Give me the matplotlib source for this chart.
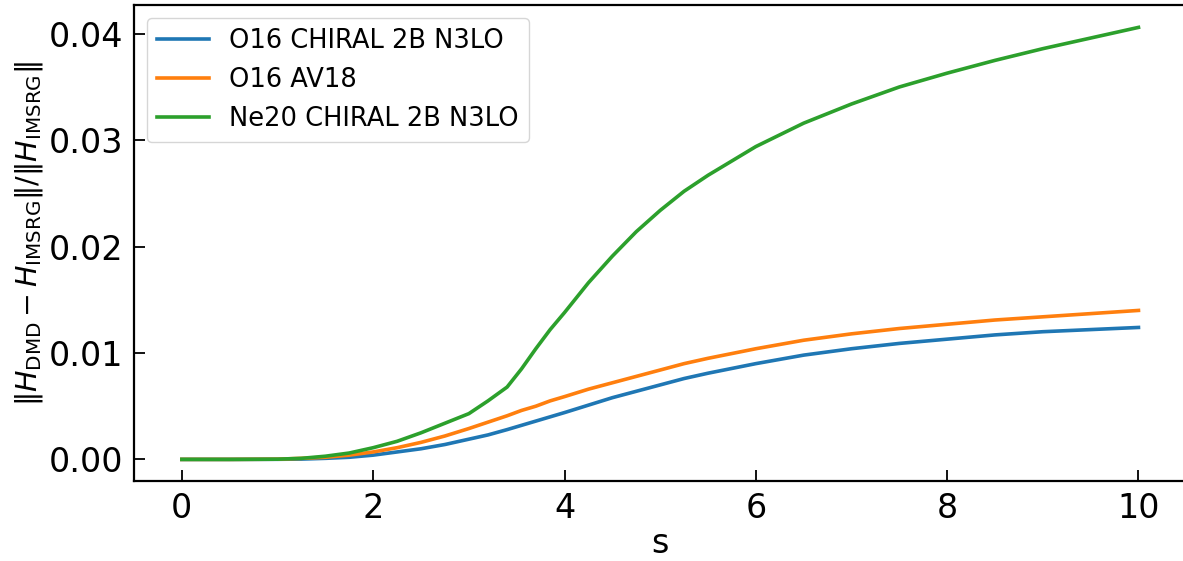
import matplotlib
matplotlib.use("Agg")
import matplotlib.pyplot as plt

# flow parameter s
s = [0, 0.5, 1, 1.25, 1.5, 1.75, 2, 2.25, 2.5, 2.75, 3, 3.2, 3.4, 3.55, 3.7, 3.85,
     4, 4.25, 4.5, 4.75, 5, 5.25, 5.5, 6, 6.5, 7, 7.5, 8, 8.5, 9, 9.5, 10]

# relative error of the DMD Hamiltonian
o16_chiral = [0, 0, 0.00001, 0.00003, 0.0001, 0.0002, 0.0004, 0.0007, 0.0010, 0.0014,
              0.0019, 0.0023, 0.0028, 0.0032, 0.0036, 0.0040, 0.0044, 0.0051, 0.0058, 0.0064,
              0.0070, 0.0076, 0.0081, 0.0090, 0.0098, 0.0104, 0.0109, 0.0113, 0.0117, 0.0120,
              0.0122, 0.0124]
o16_av18 = [0, 0, 0.00002, 0.0001, 0.0002, 0.0004, 0.0007, 0.0011, 0.0016, 0.0022,
            0.0029, 0.0035, 0.0041, 0.0046, 0.0050, 0.0055, 0.0059, 0.0066, 0.0072, 0.0078,
            0.0084, 0.0090, 0.0095, 0.0104, 0.0112, 0.0118, 0.0123, 0.0127, 0.0131, 0.0134,
            0.0137, 0.0140]
ne20_chiral = [0, 0, 0.00002, 0.0001, 0.0003, 0.0006, 0.0011, 0.0017, 0.0025, 0.0034,
               0.0043, 0.0055, 0.0068, 0.0085, 0.0104, 0.0122, 0.0138, 0.0166, 0.0191, 0.0214,
               0.0234, 0.0252, 0.0267, 0.0294, 0.0316, 0.0334, 0.0350, 0.0363, 0.0375, 0.0386,
               0.0396, 0.0406]

labels = ["O16 CHIRAL 2B N3LO", "O16 AV18", "Ne20 CHIRAL 2B N3LO"]

fig = plt.figure(figsize=(11.83, 5.61), dpi=100)
ax = fig.add_axes([0.1133, 0.1426, 0.8895, 0.8484])

for y, lab in zip([o16_chiral, o16_av18, ne20_chiral], labels):
    ax.plot(s, y, lw=2.6, label=lab)

ax.set_xlim(-0.5, 10.5)
ax.set_ylim(-0.00203, 0.0427)
ax.set_xticks([0, 2, 4, 6, 8, 10])
ax.set_yticks([0, 0.01, 0.02, 0.03, 0.04])
ax.yaxis.set_major_formatter(matplotlib.ticker.FormatStrFormatter('%.2f'))

ax.tick_params(direction='in', length=8, width=1.3, labelsize=24, pad=8)
for sp in ax.spines.values():
    sp.set_linewidth(1.6)

ax.set_xlabel("s", fontsize=24, labelpad=1)
ax.set_ylabel(r'$\|H_{\mathrm{DMD}} - H_{\mathrm{IMSRG}}\| / \|H_{\mathrm{IMSRG}}\|$', fontsize=20.5)
ax.yaxis.set_label_coords(-0.085, 0.52)

ax.legend(loc='upper left', fontsize=18.5, handlelength=2.0, borderaxespad=0.5)

fig.savefig("out.png", dpi=100)
